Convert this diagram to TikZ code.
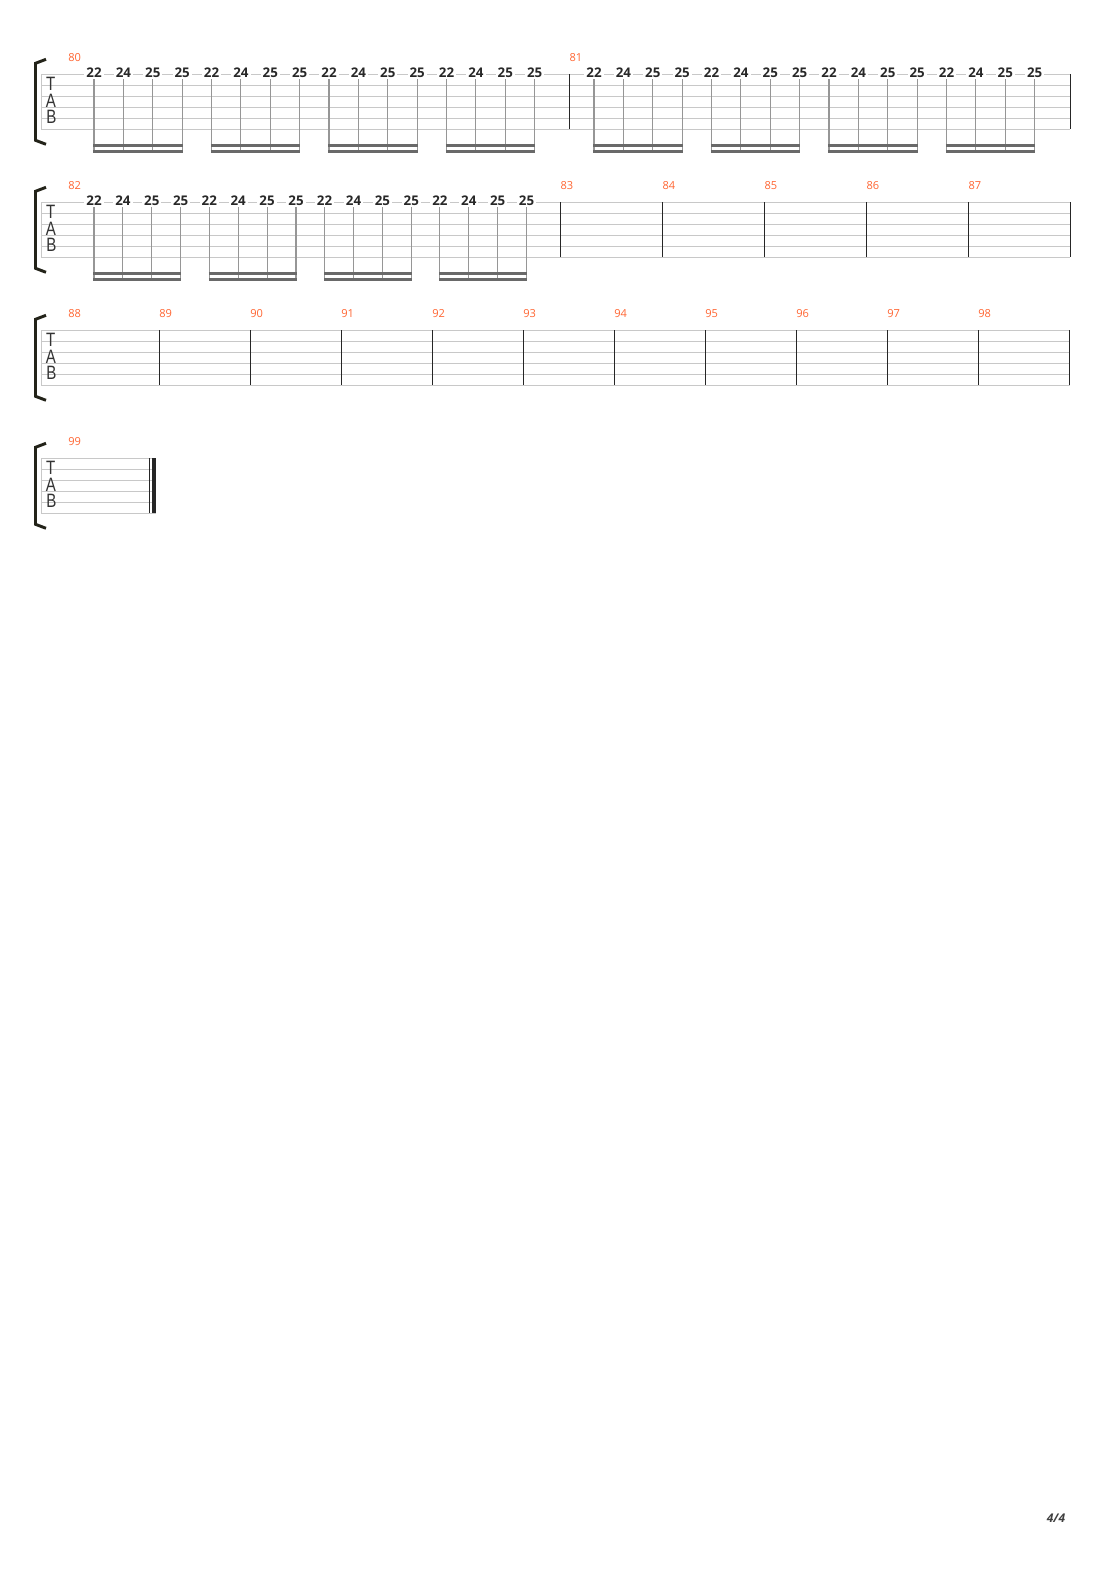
\documentclass[tikz,border=0pt]{standalone}
\usepackage{fontspec}
\setmainfont{Open Sans}
\newfontfamily\tabfont{Liberation Sans}
\definecolor{barnum}{RGB}{255,102,51}
\definecolor{staffgray}{RGB}{200,200,200}
\definecolor{stemgray}{RGB}{150,150,150}
\definecolor{beamgray}{RGB}{105,105,105}
\definecolor{fretink}{RGB}{40,40,40}
\definecolor{bracketink}{RGB}{35,35,25}
\begin{document}
\begin{tikzpicture}[x=0.75pt, y=-0.75pt,
    staffline/.style={draw=staffgray, line width=0.75pt},
    barline/.style={draw=black!85, line width=0.75pt},
    stem/.style={draw=stemgray, line width=0.8pt},
    beam/.style={draw=beamgray, line width=2pt},
    fret/.style={fill=white, inner sep=1.5pt, text=fretink, font=\bfseries\fontsize{10}{10}\selectfont},
    barno/.style={anchor=west, inner sep=0pt, text=barnum, font=\fontsize{8.3}{9}\selectfont},
    tabletter/.style={inner sep=0pt, text=black!80, font=\tabfont\fontsize{14.5}{14.5}\selectfont},
    bracket/.style={draw=bracketink, line width=2.2pt, line join=miter}]
  \fill[white] (0,0) rectangle (1110,1570);
  \useasboundingbox (0,0) rectangle (1110,1570);

  % staves: top line / right end / index
  \foreach \t/\e/\i in {74.3/1070/1, 202.3/1070/2, 330.3/1070/3, 458.3/156/4} {
    \foreach \s in {0,...,5}
      \draw[staffline] (41,\t+11*\s) -- (\e,\t+11*\s);
    \draw[staffline] (41,\t) -- (41,\t+55);
    \draw[bracket] (46,\t-15) -- (35.5,\t-11) -- (35.5,\t+66) -- (46,\t+70);
    \node[tabletter] (tabT\i) at (50.7,\t+9.6) {\scalebox{0.78}[1]{T}};
    \node[tabletter] (tabA\i) at (51,\t+26.5) {\scalebox{0.78}[1]{A}};
    \node[tabletter] (tabB\i) at (51.5,\t+43) {\scalebox{0.78}[1]{B}};
  }

  % bar lines
  \foreach \x in {569.3, 1070}
    \draw[barline] (\x,74.3) -- (\x,129.3);
  \foreach \x in {560.3, 662.3, 764.3, 866.3, 968.3, 1070}
    \draw[barline] (\x,202.3) -- (\x,257.3);
  \foreach \k in {1,...,11}
    \draw[barline] (68+91*\k,330.3) -- (68+91*\k,385.3);
  \draw[barline] (149,458.3) -- (149,513.3);
  \draw[draw=black!85, line width=2.5pt] (154,458.3) -- (154,513.3);

  % bar numbers
  \node[barno] (m80) at (68,57.8) {80};
  \node[barno] (m81) at (569.3,57.8) {81};
  \node[barno] (m82) at (68,185.8) {82};
  \foreach \n/\x in {83/560.3, 84/662.3, 85/764.3, 86/866.3, 87/968.3}
    \node[barno] (m\n) at (\x,185.8) {\n};
  \node[barno] (m88) at (68,313.8) {88};
  \foreach \n [count=\k] in {89,...,98}
    \node[barno] (m\n) at (68+91*\k,313.8) {\n};
  \node[barno] (m99) at (68,441.8) {99};

  % bars 80-81
  \coordinate (beamA1) at (0,145.3);
  \coordinate (beamA2) at (0,151.5);
  \foreach \g [count=\gi] in {94,211.5,329,446.5,594,711.5,829,946.5} {
    \foreach \v [count=\k] in {22,24,25,25} {
      \node[fret] (fa-\gi-\k) at (\g+29.4*\k-29.4,72.3) {\v};
      \draw[stem] (fa-\gi-\k.south) -- ([yshift=-0.9pt]fa-\gi-\k.south |- beamA2);
    }
    \draw[beam] ([xshift=-0.4pt]fa-\gi-1.south |- beamA1) -- ([xshift=0.4pt]fa-\gi-4.south |- beamA1);
    \draw[beam] ([xshift=-0.4pt]fa-\gi-1.south |- beamA2) -- ([xshift=0.4pt]fa-\gi-4.south |- beamA2);
  }

  % bar 82
  \coordinate (beamB1) at (0,273.3);
  \coordinate (beamB2) at (0,279.5);
  \foreach \g [count=\gi] in {94,209.3,324.6,439.9} {
    \foreach \v [count=\k] in {22,24,25,25} {
      \node[fret] (fb-\gi-\k) at (\g+28.9*\k-28.9,200.3) {\v};
      \draw[stem] (fb-\gi-\k.south) -- ([yshift=-0.9pt]fb-\gi-\k.south |- beamB2);
    }
    \draw[beam] ([xshift=-0.4pt]fb-\gi-1.south |- beamB1) -- ([xshift=0.4pt]fb-\gi-4.south |- beamB1);
    \draw[beam] ([xshift=-0.4pt]fb-\gi-1.south |- beamB2) -- ([xshift=0.4pt]fb-\gi-4.south |- beamB2);
  }

  \node[text=black!75, font=\bfseries\itshape\fontsize{9}{9}\selectfont] (page) at (1056,1518) {4/4};
\end{tikzpicture}
\end{document}
